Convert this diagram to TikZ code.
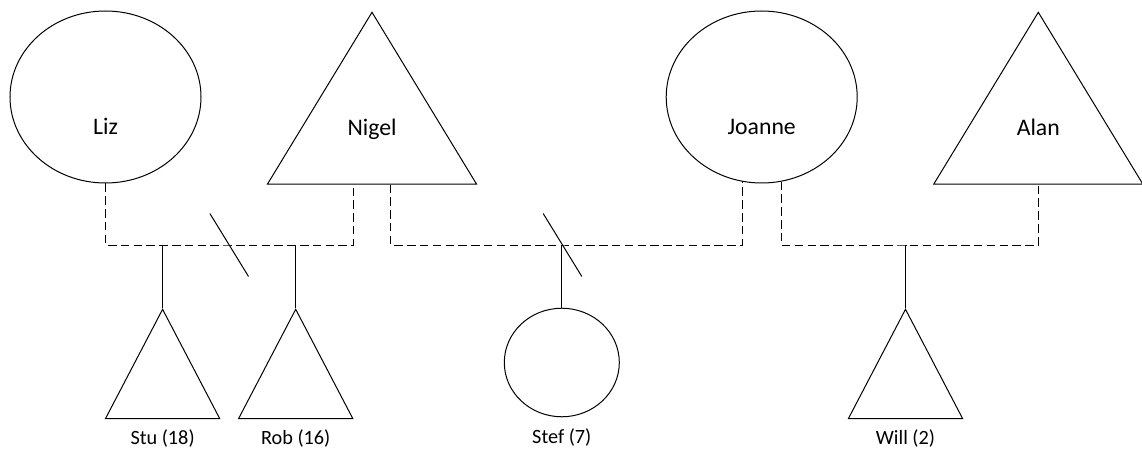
\documentclass[tikz,border=0pt]{standalone}
\usepackage{fontspec}
\setmainfont{Carlito}
\usetikzlibrary{shapes.geometric}
\tikzset{oval/.style={draw,ellipse,inner sep=0pt},
  tri/.style={draw,isosceles triangle,shape border rotate=90,isosceles triangle stretches,inner sep=0pt},
  man/.style={tri,minimum width=156.75pt,minimum height=128.8pt},
  woman/.style={oval,minimum width=143.25pt,minimum height=129pt},
  boy/.style={tri,minimum width=85.7pt,minimum height=82pt},
  girl/.style={oval,minimum width=86.25pt,minimum height=81.4pt},
  who/.style={label={[anchor=base,label distance=-36.5pt,font=\fontsize{17.8pt}{21pt}\selectfont]below:#1}},
  kid/.style={label={[anchor=base,label distance=19.3pt,font=\fontsize{15.2pt}{18pt}\selectfont]below:#1}},
  union/.style={dash pattern=on 6.4pt off 3.2pt},
  slash/.style={line cap=round}}

\begin{document}
\begin{tikzpicture}[x=0.75pt,y=-0.75pt,line width=0.75pt]
\useasboundingbox (0,0) rectangle (1142,449);
% parents
\node[woman,who=Liz] (liz) at (105.5,97) {};
\node[man,who=Nigel,anchor=apex] (nigel) at (372,11) {};
\node[woman,who=Joanne] (joanne) at (761.7,97) {};
\node[man,who=Alan,anchor=apex] (alan) at (1038.3,11) {};
% children
\node[boy,kid=Stu (18),anchor=apex] (stu) at (162.6,308) {};
\node[boy,kid=Rob (16),anchor=apex] (rob) at (295.7,308) {};
\node[girl,kid=Stef (7)] (stef) at (561.8,362.5) {};
\node[boy,kid=Will (2),anchor=apex] (will) at (905.5,308) {};
% marriage lines
\coordinate (u1) at (229.2,245);
\coordinate (u2) at (561.8,245);
\coordinate (u3) at (905.5,245);
\draw[union] (liz.south) |- (u1) -| ([xshift=-13.9pt]nigel.lower side);
\draw[union] ([xshift=14.1pt]nigel.lower side) |- (u2) -| (joanne.257.7);
\draw[union] (joanne.283.4) |- (u3) -| (alan.lower side);
% divorced
\draw[slash] (u1) +(-19.2,-31.3) -- +(19.2,31.3);
\draw[slash] (u2) +(-18.5,-31.3) -- +(19.9,31.3);
% descent
\draw (stu.apex) -- (stu.apex |- u1);
\draw (rob.apex) -- (rob.apex |- u1);
\draw (stef.north) -- (u2);
\draw (will.apex) -- (u3);
\end{tikzpicture}
\end{document}
